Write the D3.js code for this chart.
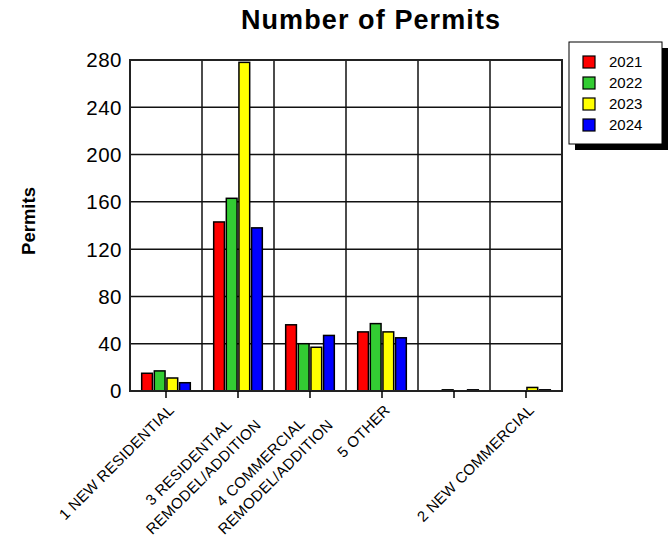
<!DOCTYPE html>
<html>
<head>
<meta charset="utf-8">
<script src="https://cdn.jsdelivr.net/npm/d3@7"></script>
<style>
  body { margin: 0; background: #fff; }
  text { font-family: "Liberation Sans", Arial, sans-serif; fill: #000; }
</style>
</head>
<body>
<div id="chart"></div>
<script>
// categories (line breaks are part of the printed label)
const categories = [
  "1 NEW RESIDENTIAL",
  "3 RESIDENTIAL\nREMODEL/ADDITION",
  "4 COMMERCIAL\nREMODEL/ADDITION",
  "5 OTHER",
  "",
  "2 NEW COMMERCIAL"
];
const years = ["2021", "2022", "2023", "2024"];
const colors = ["#ff0000", "#33cc33", "#ffff00", "#0000ff"];

// permits per category, one array per year
const permits2021 = [15, 143, 56, 50, 0, 0];
const permits2022 = [17, 163, 40, 57, 1, 0];
const permits2023 = [11, 278, 37, 50, 0, 3];
const permits2024 = [7, 138, 47, 45, 1, 1];
const yTicks = [0, 40, 80, 120, 160, 200, 240, 280];

const series = [permits2021, permits2022, permits2023, permits2024];

class BarChart {
  constructor() {
    this.config = {
      parentElement: "#chart",
      width: 670,
      height: 541,
      plot: { left: 130, right: 562, top: 60, bottom: 391 },
    };
    this.initVis();
  }

  initVis() {
    const vis = this;
    const p = vis.config.plot;

    vis.svg = d3
      .select(vis.config.parentElement)
      .append("svg")
      .attr("width", vis.config.width)
      .attr("height", vis.config.height);

    vis.xScale = d3.scaleBand().domain(d3.range(categories.length)).range([p.left, p.right]);
    vis.xInner = d3
      .scaleBand()
      .domain(years)
      .range([0, vis.xScale.bandwidth()])
      .paddingInner(0.15)
      .paddingOuter(0.925);
    vis.yScale = d3.scaleLinear().domain([0, 280]).range([p.bottom, p.top]);

    // title
    vis.svg
      .append("text")
      .attr("x", 371)
      .attr("y", 29)
      .attr("text-anchor", "middle")
      .style("font-size", "27px")
      .style("font-weight", "bold")
      .style("letter-spacing", "1.1px")
      .text("Number of Permits");

    // y axis title
    vis.svg
      .append("text")
      .attr("transform", "translate(35,221) rotate(-90)")
      .attr("text-anchor", "middle")
      .style("font-size", "18.5px")
      .style("font-weight", "bold")
      .text("Permits");

    vis.updateVis();
  }

  updateVis() {
    const vis = this;
    const p = vis.config.plot;

    // horizontal grid
    vis.svg
      .append("g")
      .selectAll("line")
      .data(yTicks)
      .join("line")
      .attr("x1", p.left)
      .attr("x2", p.right)
      .attr("y1", (d) => vis.yScale(d))
      .attr("y2", (d) => vis.yScale(d))
      .attr("stroke", "#111")
      .attr("stroke-width", 1.5);

    // vertical grid between categories
    vis.svg
      .append("g")
      .selectAll("line")
      .data(d3.range(1, categories.length))
      .join("line")
      .attr("x1", (d) => vis.xScale(d))
      .attr("x2", (d) => vis.xScale(d))
      .attr("y1", p.top)
      .attr("y2", p.bottom)
      .attr("stroke", "#111")
      .attr("stroke-width", 1.5);

    // y tick labels
    vis.svg
      .append("g")
      .selectAll("text")
      .data(yTicks)
      .join("text")
      .attr("x", 122)
      .attr("y", (d) => vis.yScale(d))
      .attr("dy", "0.36em")
      .attr("text-anchor", "end")
      .style("font-size", "20.5px")
      .style("letter-spacing", "0.5px")
      .text((d) => d);

    // bars
    const rows = [];
    categories.forEach((c, i) => {
      years.forEach((y, j) => rows.push({ cat: i, year: y, color: colors[j], value: series[j][i] }));
    });

    vis.svg
      .append("g")
      .selectAll("rect")
      .data(rows.filter((d) => d.value > 0))
      .join("rect")
      .attr("x", (d) => vis.xScale(d.cat) + vis.xInner(d.year))
      .attr("y", (d) => vis.yScale(d.value))
      .attr("width", vis.xInner.bandwidth())
      .attr("height", (d) => vis.yScale(0) - vis.yScale(d.value))
      .attr("fill", (d) => d.color)
      .attr("stroke", "#000")
      .attr("stroke-width", 1.5);

    // frame
    vis.svg
      .append("rect")
      .attr("x", p.left)
      .attr("y", p.top)
      .attr("width", p.right - p.left)
      .attr("height", p.bottom - p.top)
      .attr("fill", "none")
      .attr("stroke", "#222")
      .attr("stroke-width", 2);

    // x ticks
    vis.svg
      .append("g")
      .selectAll("line")
      .data(d3.range(categories.length))
      .join("line")
      .attr("x1", (d) => vis.xScale(d) + vis.xScale.bandwidth() / 2)
      .attr("x2", (d) => vis.xScale(d) + vis.xScale.bandwidth() / 2)
      .attr("y1", p.bottom)
      .attr("y2", p.bottom + 7)
      .attr("stroke", "#000")
      .attr("stroke-width", 1.5);

    // x labels, rotated, right aligned block, lines centred
    const lh = 21;
    const labels = vis.svg
      .append("g")
      .selectAll("g")
      .data(categories)
      .join("g")
      .attr("transform", (d, i) =>
        `translate(${vis.xScale(i) + vis.xScale.bandwidth() / 2 + 9},${p.bottom + 20}) rotate(-45)`
      );

    labels.each(function (d) {
      const g = d3.select(this);
      const lines = d.split("\n").filter((s) => s.length);
      const texts = lines.map((s, k) =>
        g.append("text")
          .attr("y", k * lh)
          .attr("text-anchor", "middle")
          .style("font-size", "15px")
          .style("letter-spacing", "0.3px")
          .text(s)
      );
      const maxW = d3.max(texts, (t) => t.node().getComputedTextLength()) || 0;
      texts.forEach((t) => t.attr("x", -maxW / 2));
    });

    // legend
    const legend = vis.svg.append("g");
    legend.append("rect")
      .attr("x", 575).attr("y", 48).attr("width", 93).attr("height", 102)
      .attr("fill", "#000");
    legend.append("rect")
      .attr("x", 569).attr("y", 42).attr("width", 93).attr("height", 102)
      .attr("fill", "#fff").attr("stroke", "#000").attr("stroke-width", 1);

    const items = legend
      .selectAll("g.item")
      .data(years)
      .join("g")
      .attr("class", "item")
      .attr("transform", (d, i) => `translate(0,${i * 21})`);

    items.append("rect")
      .attr("x", 583).attr("y", 56).attr("width", 12).attr("height", 12)
      .attr("fill", (d, i) => colors[i])
      .attr("stroke", "#000").attr("stroke-width", 1.2);

    items.append("text")
      .attr("x", 609).attr("y", 67)
      .style("font-size", "15px")
      .text((d) => d);
  }
}

const chart = new BarChart();
</script>
</body>
</html>
